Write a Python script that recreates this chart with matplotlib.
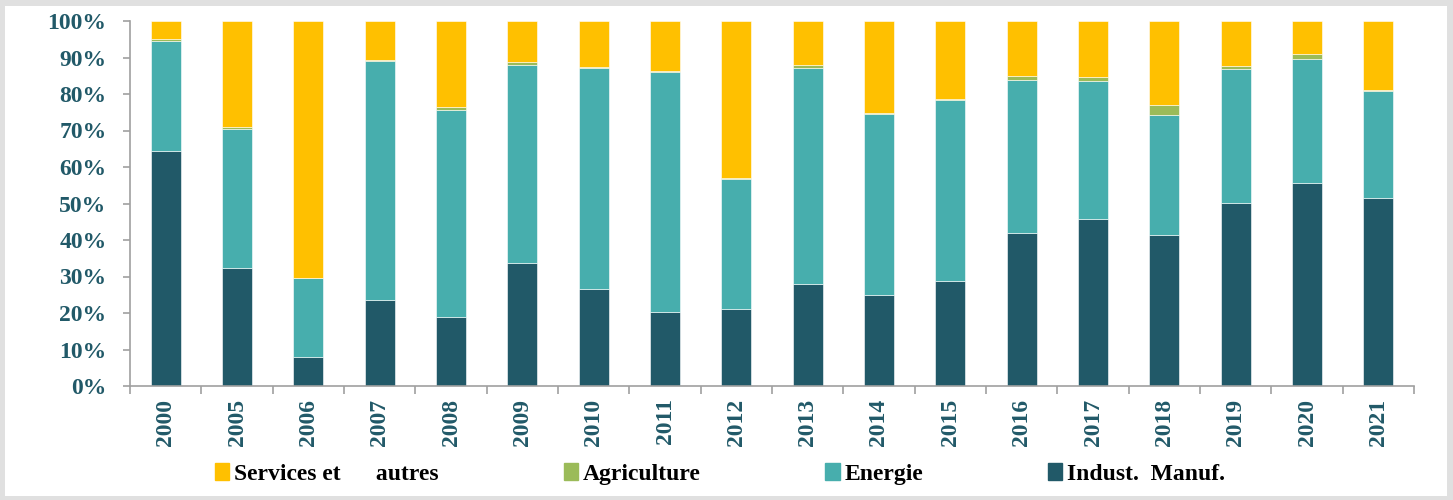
import numpy as np
import matplotlib
matplotlib.use("Agg")
from matplotlib import pyplot as plt
from matplotlib.patches import Patch, Rectangle
from matplotlib.ticker import FixedLocator, PercentFormatter

# years shown on the x axis
years = ["2000", "2005", "2006", "2007", "2008", "2009", "2010", "2011", "2012",
         "2013", "2014", "2015", "2016", "2017", "2018", "2019", "2020", "2021"]

# shares in %
indust = [64.5, 32.2, 8.0, 23.6, 18.8, 33.7, 26.5, 20.3, 21.0,
          27.9, 25.0, 28.7, 42.0, 45.7, 41.3, 50.2, 55.7, 51.5]
energie = [30.0, 38.1, 21.5, 65.5, 56.7, 54.2, 60.6, 65.8, 35.7,
           59.3, 49.6, 49.6, 41.8, 37.9, 32.9, 36.6, 33.9, 29.2]
agri = [0.5, 0.7, 0.0, 0.3, 0.9, 0.9, 0.2, 0.3, 0.2,
        0.7, 0.2, 0.3, 1.2, 1.1, 2.8, 0.8, 1.3, 0.5]
services = [100 - a - b - c for a, b, c in zip(indust, energie, agri)]

c_ind = "#215968"
c_en = "#47aead"
c_agri = "#9bbb59"
c_serv = "#ffc000"
txt = "#215968"

plt.rcParams["font.family"] = ["Liberation Serif", "DejaVu Serif"]

fig = plt.figure(figsize=(14.53, 5.0), dpi=100)
ax = fig.add_axes([130 / 1453, 1 - 386 / 500, (1414 - 130) / 1453, (386 - 21) / 500])

x = np.arange(len(years))
w = 0.42
b1 = np.array(indust)
b2 = b1 + np.array(energie)
b3 = b2 + np.array(agri)
kw = dict(width=w, edgecolor="white", linewidth=0.4)
ax.bar(x, indust, color=c_ind, **kw)
ax.bar(x, energie, bottom=b1, color=c_en, **kw)
ax.bar(x, agri, bottom=b2, color=c_agri, **kw)
ax.bar(x, services, bottom=b3, color=c_serv, **kw)

ax.set_xlim(-0.5, len(years) - 0.5)
ax.set_ylim(0, 100)
ax.set_yticks(np.arange(0, 101, 10))
ax.yaxis.set_major_formatter(PercentFormatter(decimals=0))
ax.set_xticks(x)
ax.set_xticklabels(years, rotation=90)
ax.xaxis.set_minor_locator(FixedLocator(np.arange(-0.5, len(years), 1)))

for s in ["top", "right"]:
    ax.spines[s].set_visible(False)
for s in ["left", "bottom"]:
    ax.spines[s].set_color("#a0a0a0")
    ax.spines[s].set_linewidth(1.2)

ax.tick_params(axis="y", length=5, width=1.2, color="#a0a0a0", pad=12,
               labelsize=17, labelcolor=txt)
ax.tick_params(axis="x", which="major", length=0, pad=9,
               labelsize=17, labelcolor=txt)
ax.tick_params(axis="x", which="minor", length=6, width=1.2, color="#a0a0a0")
for lab in ax.get_xticklabels() + ax.get_yticklabels():
    lab.set_fontweight("bold")

handles = [Patch(color=c_serv), Patch(color=c_agri), Patch(color=c_en), Patch(color=c_ind)]
labels = ["Services et      autres", "Agriculture", "Energie", "Indust.  Manuf."]
fig.legend(handles, labels, loc="center", bbox_to_anchor=(720 / 1453, 1 - 474 / 500),
           ncol=4, frameon=False, columnspacing=5.3, handlelength=0.6,
           handleheight=0.75, handletextpad=0.2,
           prop={"weight": "bold", "size": 17})

# light grey frame around the picture
fig.patches.append(Rectangle((0.001, 0.003), 0.997, 0.994, transform=fig.transFigure,
                             fill=False, edgecolor="#e0e0e0", linewidth=5))

fig.savefig("out.png", dpi=100, facecolor="white")
